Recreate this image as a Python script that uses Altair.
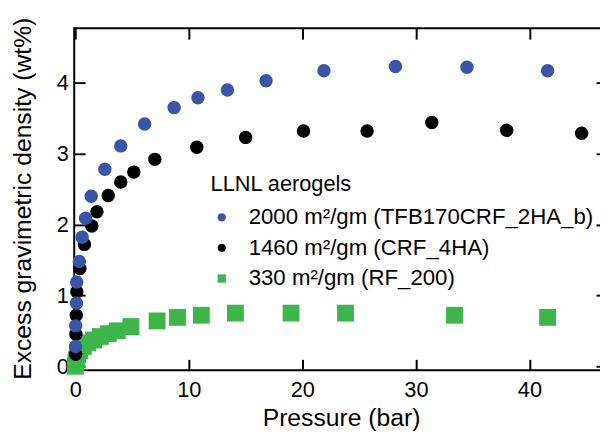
import altair as alt
import pandas as pd

FONT = "Liberation Sans"

# ---- data ----
LABELS = ["\u00a02000 m\u00b2/gm (TFB170CRF_2HA_b)",
          "1460 m\u00b2/gm (CRF_4HA)",
          "\u00a0330 m\u00b2/gm (RF_200)"]
COLORS = ["#3A55A5", "#000000", "#3DB54A"]
SHAPES = ["circle", "circle", "square"]

blue_p = [0.02, 0.03, 0.1, 0.12, 0.35, 0.6, 0.9, 1.4, 2.6, 4.0, 6.1, 8.7, 10.8, 13.4, 16.8, 21.9, 28.2, 34.5, 41.6]
blue_v = [0.28, 0.57, 0.89, 1.19, 1.48, 1.82, 2.09, 2.40, 2.78, 3.11, 3.42, 3.65, 3.79, 3.90, 4.03, 4.17, 4.23, 4.22, 4.17]

black_p = [0.03, 0.05, 0.08, 0.13, 0.4, 0.8, 1.45, 1.9, 2.9, 4.0, 5.15, 7.0, 10.7, 15.0, 20.1, 25.7, 31.4, 38.0, 44.6]
black_v = [0.17, 0.45, 0.72, 1.05, 1.38, 1.72, 1.98, 2.18, 2.41, 2.60, 2.74, 2.92, 3.09, 3.23, 3.32, 3.32, 3.44, 3.33, 3.29]

green_p = [0.0, 0.05, 0.1, 0.2, 0.4, 0.7, 1.1, 1.6, 2.2, 2.9, 3.7, 4.9, 7.2, 9.0, 11.1, 14.1, 19.0, 23.8, 33.4, 41.6]
green_v = [0.0, 0.05, 0.10, 0.16, 0.22, 0.28, 0.33, 0.37, 0.42, 0.46, 0.50, 0.56, 0.64, 0.69, 0.72, 0.75, 0.75, 0.75, 0.72, 0.69]

X_TICKS = [0, 10, 20, 30, 40]
Y_TICKS = [0, 1, 2, 3, 4]
X_DOMAIN = [-0.1, 46.74]
Y_DOMAIN = [-0.056, 4.77]

df_blue = pd.DataFrame({"p": blue_p, "v": blue_v, "series": LABELS[0]})
df_black = pd.DataFrame({"p": black_p, "v": black_v, "series": LABELS[1]})
df_green = pd.DataFrame({"p": green_p, "v": green_v, "series": LABELS[2]})

xscale = alt.Scale(domain=X_DOMAIN, nice=False, zero=False)
yscale = alt.Scale(domain=Y_DOMAIN, nice=False, zero=False)

legend = alt.Legend(
    title="LLNL aerogels", orient="none", legendX=138, legendY=148,
    titleFont=FONT, titleFontSize=22, titleFontWeight="normal", titleColor="black",
    titlePadding=10, labelFont=FONT, labelFontSize=22.5, labelColor="black",
    labelLimit=600, symbolSize=70, rowPadding=8, labelOffset=16, symbolOffset=0,
    padding=0, symbolStrokeWidth=0,
)
color = alt.Color("series:N", scale=alt.Scale(domain=LABELS, range=COLORS), legend=legend)
shape = alt.Shape("series:N", scale=alt.Scale(domain=LABELS, range=SHAPES), legend=legend)

lab = dict(labelFont=FONT, labelFontSize=22, labelColor="black",
           titleFont=FONT, titleFontSize=25, titleFontWeight="normal", titleColor="black")

# inward ticks: axis pulled inside the frame, ticks reach back to the frame
x_bottom = alt.Axis(orient="bottom", values=X_TICKS, domain=False, grid=False, ticks=True, tickSize=11,
                    tickWidth=2, tickColor="black", offset=-11, labelPadding=10, title="Pressure (bar)",
                    titleX=270, titleY=67, titleBaseline="alphabetic", titleAlign="center", **lab)
y_left = alt.Axis(orient="left", values=Y_TICKS, domain=False, grid=False, ticks=True, tickSize=11,
                  tickWidth=2, tickColor="black", offset=-11, labelPadding=6,
                  title="Excess gravimetric density (wt%)",
                  titleAngle=270, titleX=-63, titleY=172, titleBaseline="middle", titleAlign="center", **lab)
x_top = alt.Axis(orient="top", values=X_TICKS, domain=False, grid=False, ticks=True, tickSize=11, tickWidth=2,
                 tickColor="black", offset=-11, labels=False, title=None)
y_right = alt.Axis(orient="right", values=Y_TICKS, domain=False, grid=False, ticks=True, tickSize=10,
                   tickWidth=2, tickColor="black", offset=-10, labels=False, title=None)

green = alt.Chart(df_green).mark_point(filled=True, opacity=1, size=290, strokeWidth=0).encode(
    x=alt.X("p:Q", scale=xscale, axis=x_bottom),
    y=alt.Y("v:Q", scale=yscale, axis=y_left),
    color=color, shape=shape,
)
black = alt.Chart(df_black).mark_point(filled=True, opacity=1, size=185, strokeWidth=0).encode(
    x=alt.X("p:Q", scale=xscale, axis=x_top),
    y=alt.Y("v:Q", scale=yscale, axis=y_right),
    color=color, shape=shape,
)
blue = alt.Chart(df_blue).mark_point(filled=True, opacity=1, size=185, strokeWidth=0).encode(
    x=alt.X("p:Q", scale=xscale, axis=None),
    y=alt.Y("v:Q", scale=yscale, axis=None),
    color=color, shape=shape,
)

chart = (
    alt.layer(green, black, blue)
    .resolve_axis(x="independent", y="independent")
    .properties(width=538, height=346, background="white",
                autosize=alt.AutoSizeParams(type="none"),
                padding={"left": 67, "top": 18, "right": -6, "bottom": 60})
    .configure_view(stroke="#000000", strokeWidth=2, strokeOpacity=1)
    .configure_axis(grid=False)
)

chart.save("out.html", embed_options={"renderer": "svg", "actions": False})
